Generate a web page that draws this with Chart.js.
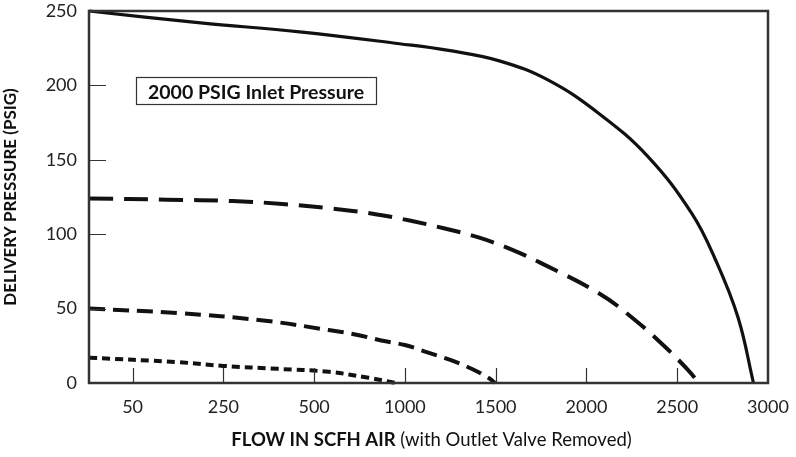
<!DOCTYPE html>
<html>
<head>
<meta charset="utf-8">
<script src="https://cdn.jsdelivr.net/npm/chart.js@4"></script>
<style>
  html, body { margin: 0; padding: 0; background: #fff; }
  #wrap { width: 796px; height: 457px; position: relative; }
</style>
</head>
<body>
<div id="wrap"><canvas id="chart" width="796" height="457"></canvas></div>
<script>
// ======= Data =======
// axis tick labels (evenly spaced on the chart, not linear in flow)
const X_TICK_LABELS = ["50", "250", "500", "1000", "1500", "2000", "2500", "3000"];
const X_TICK_FLOWS = [50, 250, 500, 1000, 1500, 2000, 2500, 3000];
const Y_TICKS = [0, 50, 100, 150, 200, 250];

// curves, flow in SCFH / delivery pressure in PSIG
const solidFlow = [0, 200, 460, 970, 1240, 1520, 1790, 2070, 2340, 2580, 2710, 2835, 2920];
const solidPsig = [250, 242, 236, 228, 223.5, 216.5, 203.5, 181, 152, 114, 83, 44, 0];

const dash1Flow = [0, 125, 275, 412, 654, 846, 1033, 1214, 1401, 1582, 1753, 2066, 2247, 2434, 2560, 2620];
const dash1Psig = [124, 123.2, 122.3, 120.3, 116.5, 113.3, 109, 104, 98, 90, 80.4, 60.5, 44.4, 24.2, 8.7, 0];

const dash2Flow = [0, 150, 360, 580, 740, 870, 1000, 1120, 1250, 1370, 1470, 1495];
const dash2Psig = [50, 47, 42, 35.6, 32.3, 28.6, 25.5, 20.8, 15.5, 9.4, 2.7, 0];

const dotFlow = [0, 150, 250, 400, 580, 800, 950];
const dotPsig = [17, 14, 11.5, 9.5, 7.5, 3.5, 0];

const NOTE = "2000 PSIG Inlet Pressure";

// ======= Axis mapping =======
// left edge of the plot (0 flow) sits about half a step before the "50" tick
const LEFT_POS = -0.48;
function flowToPos(f) {
  const pts = [0].concat(X_TICK_FLOWS);
  const pos = [LEFT_POS].concat(X_TICK_FLOWS.map((_, i) => i));
  for (let i = 1; i < pts.length; i++) {
    if (f <= pts[i]) {
      const t = (f - pts[i - 1]) / (pts[i] - pts[i - 1]);
      return pos[i - 1] + t * (pos[i] - pos[i - 1]);
    }
  }
  return pos[pos.length - 1];
}
function toPoints(flows, psig) {
  return flows.map((f, i) => ({ x: flowToPos(f), y: psig[i] }));
}

const INK = "#111";
const AXIS = "#333";
const FONT = "Lato, 'Open Sans', sans-serif";

function curve(label, flows, psig, width, dash) {
  return {
    label,
    data: toPoints(flows, psig),
    borderColor: INK,
    borderWidth: width,
    borderDash: dash,
    borderCapStyle: "butt",
    pointRadius: 0,
    fill: false,
    showLine: true,
    tension: 0.4,
    clip: false
  };
}

// ======= Plugins =======
const framePlugin = {
  id: "frame",
  afterDraw(chart) {
    const { ctx, chartArea: a, scales } = chart;
    const xs = scales.x, ys = scales.y;
    ctx.save();
    // inner tick marks
    ctx.strokeStyle = AXIS;
    ctx.lineWidth = 1.2;
    ctx.beginPath();
    X_TICK_LABELS.forEach((_, i) => {
      const px = Math.round(xs.getPixelForValue(i)) + 0.5;
      if (px >= a.right - 2) return;
      ctx.moveTo(px, a.bottom);
      ctx.lineTo(px, a.bottom - 15);
    });
    Y_TICKS.forEach((v) => {
      if (v === 0 || v === 250) return;
      const py = Math.round(ys.getPixelForValue(v)) + 0.5;
      ctx.moveTo(a.left, py);
      ctx.lineTo(a.left + 17, py);
    });
    ctx.stroke();
    // plot frame
    ctx.lineWidth = 2.5;
    ctx.strokeRect(a.left, a.top, a.right - a.left, a.bottom - a.top);

    // note box
    ctx.font = "bold 19.5px " + FONT;
    ctx.fillStyle = INK;
    ctx.textAlign = "center";
    ctx.textBaseline = "middle";
    const cx = xs.getPixelForValue(flowToPos(340));
    const cy = ys.getPixelForValue(196);
    const w = ctx.measureText(NOTE).width + 24;
    ctx.fillText(NOTE, cx, cy + 1);
    ctx.lineWidth = 1.2;
    ctx.strokeStyle = AXIS;
    ctx.strokeRect(Math.round(cx - w / 2) + 0.5, Math.round(cy - 14) + 0.5, Math.round(w), 27);

    // x axis title: bold part + normal part
    const boldPart = "FLOW IN SCFH AIR";
    const normPart = " (with Outlet Valve Removed)";
    ctx.textAlign = "left";
    ctx.font = "bold 18.5px " + FONT;
    const wb = ctx.measureText(boldPart).width;
    ctx.font = "18.5px " + FONT;
    const wn = ctx.measureText(normPart).width;
    const start = (a.left + a.right) / 2 + 3 - (wb + wn) / 2;
    const ty = 440;
    ctx.font = "bold 18.5px " + FONT;
    ctx.fillText(boldPart, start, ty);
    ctx.font = "18.5px " + FONT;
    ctx.fillText(normPart, start + wb, ty);
    ctx.restore();
  }
};

// ======= Chart =======
new Chart(document.getElementById("chart"), {
  type: "scatter",
  data: {
    datasets: [
      curve("Solid", solidFlow, solidPsig, 3.2, []),
      curve("Dash 1", dash1Flow, dash1Psig, 4, [24, 11]),
      curve("Dash 2", dash2Flow, dash2Psig, 4, [16, 8]),
      curve("Dotted", dotFlow, dotPsig, 4, [8, 5])
    ]
  },
  options: {
    responsive: false,
    animation: false,
    events: [],
    layout: { padding: { top: 11, right: 28, left: 0, bottom: 0 } },
    plugins: { legend: { display: false }, tooltip: { enabled: false } },
    scales: {
      x: {
        type: "linear",
        min: LEFT_POS,
        max: X_TICK_LABELS.length - 1,
        afterBuildTicks: (s) => { s.ticks = X_TICK_LABELS.map((_, i) => ({ value: i })); },
        afterFit: (s) => { s.height = 457 - 383; s.paddingLeft = 0; s.paddingRight = 0; },
        grid: { display: false, drawTicks: false },
        border: { display: false },
        ticks: {
          padding: 13,
          color: "#222",
          font: { family: FONT, size: 18 },
          maxRotation: 0,
          autoSkip: false,
          callback: (v) => X_TICK_LABELS[Math.round(v)] ?? ""
        }
      },
      y: {
        type: "linear",
        min: 0,
        max: 250,
        afterBuildTicks: (s) => { s.ticks = Y_TICKS.map((v) => ({ value: v })); },
        afterFit: (s) => { s.width = 89; s.paddingTop = 0; s.paddingBottom = 0; },
        grid: { display: false, drawTicks: false },
        border: { display: false },
        title: {
          display: true,
          text: "DELIVERY PRESSURE (PSIG)",
          color: INK,
          font: { family: FONT, size: 17, weight: "bold" },
          padding: { top: 0, bottom: 12 }
        },
        ticks: {
          padding: 12,
          color: "#222",
          font: { family: FONT, size: 18 }
        }
      }
    }
  },
  plugins: [framePlugin]
});
</script>
</body>
</html>
